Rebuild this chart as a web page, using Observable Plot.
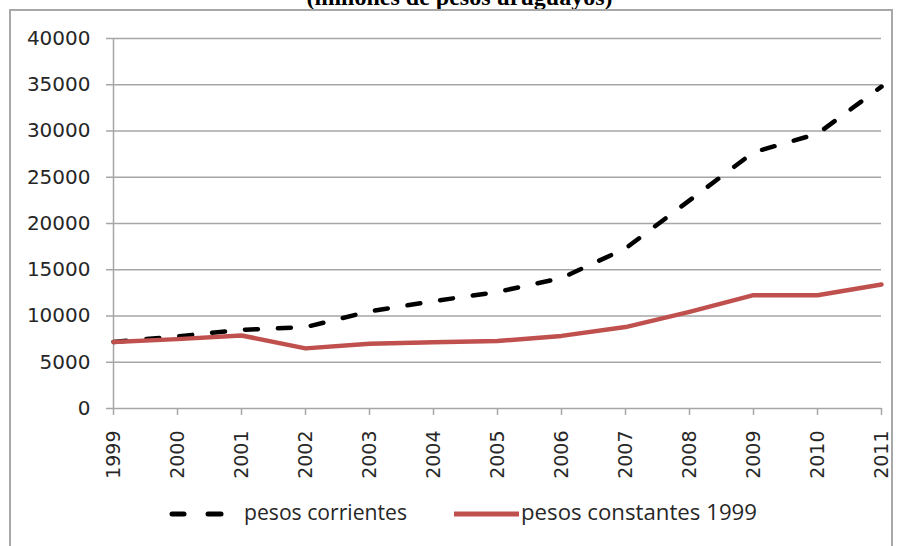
<!DOCTYPE html>
<html>
<head>
<meta charset="utf-8">
<script src="https://cdn.jsdelivr.net/npm/d3@7"></script>
<script src="https://cdn.jsdelivr.net/npm/@observablehq/plot@0.6"></script>
<style>
  html, body { margin: 0; padding: 0; background: #fff; }
  #wrap { position: relative; width: 898px; height: 546px; overflow: hidden; background: #fff; }
  #frame { position: absolute; left: 9px; top: 9px; width: 884px; height: 560px; border: 2px solid #a8a8a8; box-sizing: border-box; }
  #title { position: absolute; left: 0; width: 919px; top: -15px; line-height: 24px; text-align: center;
           font-family: "Liberation Serif", serif; font-weight: bold; font-size: 24px; color: #000; white-space: nowrap; }
  #chart { position: absolute; left: 0; top: 0; }
  #legend { position: absolute; left: 0; top: 0; }
</style>
</head>
<body>
<div id="wrap">
  <div id="title">(millones de pesos uruguayos)</div>
  <div id="frame"></div>
  <div id="chart"></div>
  <svg id="legend" width="898" height="546"></svg>
</div>
<script>
const years = [1999, 2000, 2001, 2002, 2003, 2004, 2005, 2006, 2007, 2008, 2009, 2010, 2011];
const pesosCorrientes = [7200, 7800, 8500, 8800, 10500, 11600, 12600, 14100, 17300, 22500, 27700, 29700, 34800];
const pesosConstantes = [7200, 7500, 7900, 6500, 7000, 7150, 7300, 7850, 8800, 10450, 12250, 12250, 13400];
const yTicks = [0, 5000, 10000, 15000, 20000, 25000, 30000, 35000, 40000];
const seriesNames = ["pesos corrientes", "pesos constantes 1999"];

const corr = years.map((y, i) => ({year: y, value: pesosCorrientes[i]}));
const cons = years.map((y, i) => ({year: y, value: pesosConstantes[i]}));

const gridColor = "#a6a6a6";

const chart = Plot.plot({
  width: 898,
  height: 480,
  marginLeft: 113,
  marginRight: 17,
  marginTop: 38,
  marginBottom: 72,
  style: { fontFamily: "DejaVu Sans, sans-serif", background: "transparent", overflow: "visible" },
  x: { domain: [1999, 2011], label: null },
  y: { domain: [0, 40000], label: null },
  marks: [
    Plot.gridY(yTicks, { stroke: gridColor, strokeOpacity: 1, strokeWidth: 1.5 }),
    Plot.ruleX([1999], { y1: 0, y2: 40000, stroke: gridColor, strokeWidth: 1.5 }),
    Plot.axisY(yTicks, { label: null, tickSize: 7, tickPadding: 16, stroke: gridColor, strokeWidth: 1.5, fontSize: 20, fill: "#262626", tickFormat: d => String(d) }),
    Plot.axisX(years, { label: null, tickSize: 7, tickPadding: 15, tickRotate: -90, stroke: gridColor, strokeWidth: 1.5, fontSize: 19, fill: "#262626", tickFormat: d => String(d) }),
    Plot.line(corr, { x: "year", y: "value", stroke: "#000", strokeWidth: 4.5, strokeDasharray: "13,20", strokeLinecap: "round" }),
    Plot.line(cons, { x: "year", y: "value", stroke: "#c0504d", strokeWidth: 4.5, strokeLinejoin: "round" })
  ]
});
document.getElementById("chart").appendChild(chart);

// Legend
const lg = d3.select("#legend");
lg.append("line").attr("x1", 172).attr("x2", 184).attr("y1", 514).attr("y2", 514)
  .attr("stroke", "#000").attr("stroke-width", 5).attr("stroke-linecap", "round");
lg.append("line").attr("x1", 208).attr("x2", 221).attr("y1", 514).attr("y2", 514)
  .attr("stroke", "#000").attr("stroke-width", 5).attr("stroke-linecap", "round");
lg.append("text").attr("x", 244).attr("y", 520).text(seriesNames[0])
  .attr("font-family", "Open Sans, sans-serif").attr("font-size", 21).attr("fill", "#262626")
  .attr("textLength", 163).attr("lengthAdjust", "spacingAndGlyphs");
lg.append("line").attr("x1", 454).attr("x2", 519).attr("y1", 514).attr("y2", 514)
  .attr("stroke", "#c0504d").attr("stroke-width", 5);
lg.append("text").attr("x", 521).attr("y", 520).text(seriesNames[1])
  .attr("font-family", "Open Sans, sans-serif").attr("font-size", 21).attr("fill", "#262626")
  .attr("textLength", 236).attr("lengthAdjust", "spacingAndGlyphs");
</script>
</body>
</html>
